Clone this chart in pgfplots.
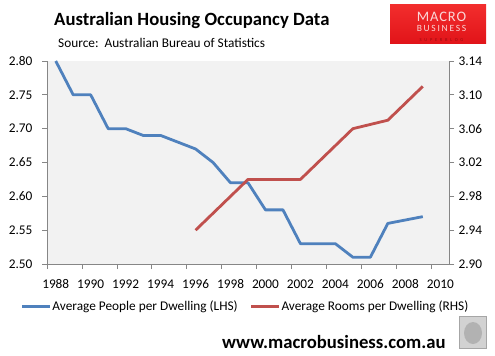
\documentclass[border=0pt]{standalone}
\usepackage{pgfplots}
\pgfplotsset{compat=1.18}
\usepackage{fontspec}
\setmainfont{Carlito}
\newfontfamily\logofont[LetterSpace=6]{Carlito}
\newfontfamily\logofontb[LetterSpace=18]{Carlito}
\newfontfamily\logofontc[LetterSpace=60]{Carlito}
\definecolor{xblue}{HTML}{4F81BD}
\definecolor{xred}{HTML}{C0504D}
\definecolor{axgray}{HTML}{868686}
\definecolor{plotbg}{HTML}{F2F2F2}

\begin{document}
\begin{tikzpicture}[x=1bp,y=1bp]
\path[use as bounding box] (0,0) rectangle (495,355);

\begin{axis}[
  at={(47bp,91bp)}, anchor=south west, scale only axis,
  width=402bp, height=203bp,
  xmin=1987.5, xmax=2010.5, ymin=2.5, ymax=2.8,
  axis x line*=bottom, axis y line*=left,
  axis line style={draw=axgray, line width=0.75bp},
  axis background/.style={fill=plotbg},
  tick align=outside,
  xtick={1988,1990,...,2010},
  xticklabels={1988,1990,1992,1994,1996,1998,2000,2002,2004,2006,2008,2010},
  minor xtick={1987.5,1989.5,...,2009.5},
  major x tick style={draw=none},
  minor x tick style={draw=axgray, line width=0.75bp},
  minor tick length=5bp,
  major tick length=5bp,
  ytick={2.50,2.55,2.60,2.65,2.70,2.75,2.80},
  yticklabels={2.50,2.55,2.60,2.65,2.70,2.75,2.80},
  y tick style={draw=axgray, line width=0.75bp},
  ticklabel style={font=\fontsize{13.3bp}{14bp}\selectfont},
  xticklabel style={anchor=base, yshift=-19bp},
  yticklabel style={anchor=east, xshift=-6bp},
  legend style={at={(0.4925,-0.21)}, anchor=center, draw=none, fill=none,
    font=\fontsize{13.3bp}{14bp}\selectfont, legend columns=2,
    /tikz/every even column/.append style={column sep=11bp},
    nodes={inner sep=1bp}},
  legend image code/.code={\draw[#1] (0bp,0bp) -- (28bp,0bp);},
  clip mode=individual,
]
\addplot[xblue, line width=2.8bp, line join=round] coordinates {
(1988,2.80) (1989,2.75) (1990,2.75) (1991,2.70) (1992,2.70) (1993,2.69)
(1994,2.69) (1995,2.68) (1996,2.67) (1997,2.65) (1998,2.62) (1999,2.62)
(2000,2.58) (2001,2.58) (2002,2.53) (2003,2.53) (2004,2.53) (2005,2.51)
(2006,2.51) (2007,2.56) (2008,2.565) (2009,2.57)};
\addlegendentry{Average People per Dwelling (LHS)}
\addlegendimage{xred, line width=2.8bp}
\addlegendentry{Average Rooms per Dwelling (RHS)}
\end{axis}

\begin{axis}[
  at={(47bp,91bp)}, anchor=south west, scale only axis,
  width=402bp, height=203bp,
  xmin=1987.5, xmax=2010.5, ymin=2.90, ymax=3.14,
  axis x line=none, axis y line*=right,
  axis line style={draw=axgray, line width=0.75bp},
  tick align=outside,
  major tick length=5bp,
  ytick={2.90,2.94,2.98,3.02,3.06,3.10,3.14},
  yticklabels={2.90,2.94,2.98,3.02,3.06,3.10,3.14},
  y tick style={draw=axgray, line width=0.75bp},
  ticklabel style={font=\fontsize{13.3bp}{14bp}\selectfont},
  yticklabel style={anchor=west, xshift=1bp},
]
\addplot[xred, line width=2.8bp, line join=round] coordinates {
(1996,2.94) (1997,2.96) (1998,2.98) (1999,3.00) (2000,3.00) (2001,3.00)
(2002,3.00) (2003,3.02) (2004,3.04) (2005,3.06) (2006,3.065) (2007,3.07)
(2008,3.09) (2009,3.11)};
\end{axis}

% titles
\node[anchor=base west, inner sep=0, font=\fontsize{18.7bp}{20bp}\selectfont\bfseries] at (54,330) {Australian Housing Occupancy Data};
\node[anchor=base west, inner sep=0, font=\fontsize{13.3bp}{14bp}\selectfont] at (58,307.3) {Source:\ \ Australian Bureau of Statistics};
\node[anchor=base west, inner sep=0, font=\fontsize{18.7bp}{20bp}\selectfont\bfseries] at (222,6.7) {www.macrobusiness.com.au};

% logo
\shade[top color={rgb,255:red,242;green,45;blue,45}, bottom color={rgb,255:red,225;green,20;blue,25}] (390,312) rectangle (486,350);
\node[anchor=north, inner sep=0, align=center, text={rgb,255:red,250;green,215;blue,215}] at (441.5,343.5)
  {{\fontsize{14.5bp}{10bp}\logofont MACRO}\\[-1.5bp]
   {\fontsize{9.5bp}{8bp}\logofontb BUSINESS}\\[-2.5bp]
   {\color[RGB]{150,10,15}\fontsize{4.5bp}{4.5bp}\logofontc SUPERBLOG}};

% wolf box
\fill[gray!35, draw=gray!70, line width=0.8bp] (459.5,6.5) rectangle (486.5,38.5);
\fill[gray!60] (473,22) ellipse (9 and 11);
\end{tikzpicture}
\end{document}
